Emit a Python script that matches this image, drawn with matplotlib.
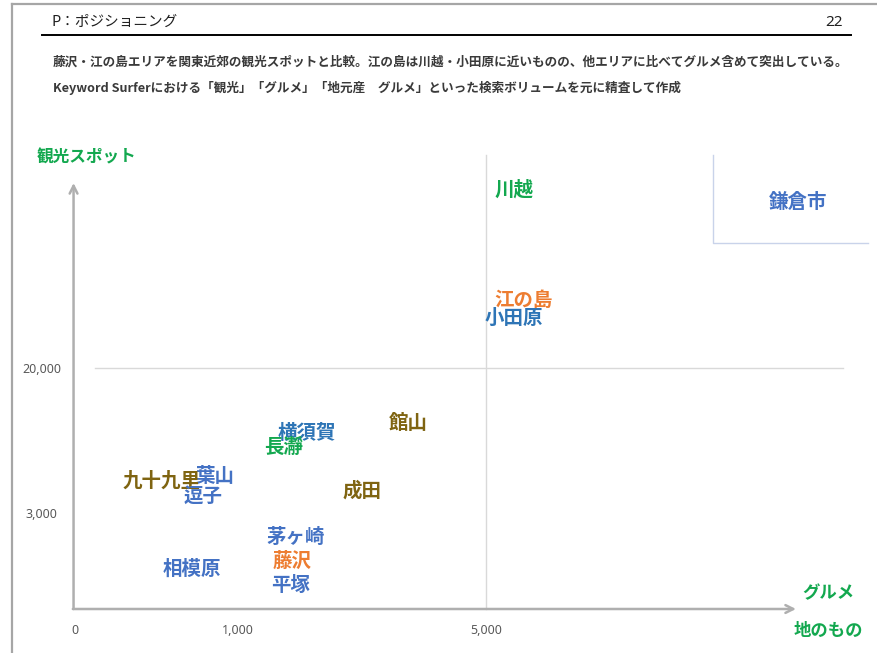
import matplotlib
matplotlib.use("Agg")
import matplotlib.pyplot as plt
from matplotlib.lines import Line2D
import numpy as np

plt.rcParams['font.family'] = ['Noto Sans CJK JP', 'DejaVu Sans']

# search volume: x = グルメ (local food), y = 観光スポット
names = ["川越", "鎌倉市", "江の島", "小田原", "館山", "横須賀", "長瀞",
         "葉山", "九十九里", "逗子", "成田", "茅ヶ崎", "藤沢", "平塚", "相模原"]
gourmet = [5450, 10030, 5600, 5450, 3740, 2110, 1730,
           860, 530, 785, 3000, 1935, 1870, 1855, 720]
sightseeing = [40900, 39350, 27860, 25860, 13430, 12380, 10740,
               7220, 6750, 4990, 5580, 2250, 1500, 750, 1250]
colors = ["#13A84F", "#4472C4", "#ED7D31", "#2E75B6", "#7F6411", "#2E75B6", "#13A84F",
          "#4472C4", "#7F6411", "#4472C4", "#7F6411", "#4472C4", "#ED7D31", "#4472C4", "#4472C4"]

x_ticks = [0, 1000, 5000]
x_ticklabels = ["0", "1,000", "5,000"]
y_ticks = [3000, 20000]
y_ticklabels = ["3,000", "20,000"]

header = "P：ポジショニング"
page_no = "22"
note1 = "藤沢・江の島エリアを関東近郊の観光スポットと比較。江の島は川越・小田原に近いものの、他エリアに比べてグルメ含めて突出している。"
note2 = "Keyword Surferにおける「観光」「グルメ」「地元産　グルメ」といった検索ボリュームを元に精査して作成"

# piecewise-linear axis scales (break points of the positioning map)
XD = [0, 1000, 5000, 20000]
XP = [0, 163, 411, 1341]
YD = [0, 3000, 20000, 60000]
YP = [0, 96, 241, 582]

W, H = 878, 653


def fx(x):
    return x / W


def fy(y):
    return 1 - y / H


fig = plt.figure(figsize=(W / 100, H / 100), dpi=100)
fig.patch.set_facecolor("white")

# page frame
fig.add_artist(Line2D([fx(12), 1], [fy(4), fy(4)], color="#A6A6A6", lw=1.6))
fig.add_artist(Line2D([fx(12), fx(12)], [fy(4), 0], color="#A6A6A6", lw=1.6))
fig.add_artist(Line2D([fx(42), fx(851)], [fy(35), fy(35)], color="black", lw=1.4))

fig.text(fx(52), fy(22), header, fontsize=10.5, color="#202020", va="center", ha="left")
fig.text(fx(843), fy(22), page_no, fontsize=11, color="#202020", va="center", ha="right",
         family="Noto Sans")
fig.text(fx(53), fy(62), note1, fontsize=9.1, weight="bold", color="#3A3A3A", va="center")
fig.text(fx(53), fy(88), note2, fontsize=9.1, weight="bold", color="#3A3A3A", va="center")

ax = fig.add_axes([fx(75), fy(609), (796 - 75) / W, (609 - 183) / H])
ax.set_xscale("function", functions=(lambda v: np.interp(v, XD, XP),
                                      lambda v: np.interp(v, XP, XD)))
ax.set_yscale("function", functions=(lambda v: np.interp(v, YD, YP),
                                      lambda v: np.interp(v, YP, YD)))
ax.set_xlim(0, 10000)
ax.set_ylim(0, 41690)
ax.patch.set_alpha(0)
for s in ax.spines.values():
    s.set_visible(False)

ax.set_xticks(x_ticks)
ax.set_xticklabels(x_ticklabels, family="Noto Sans", fontsize=9, color="#595959")
ax.set_yticks(y_ticks)
ax.set_yticklabels(y_ticklabels, family="Noto Sans", fontsize=9, color="#595959")
ax.tick_params(axis="x", length=0, pad=11)
ax.tick_params(axis="y", length=0, pad=24)
for t in ax.get_yticklabels():
    t.set_horizontalalignment("center")
ax.minorticks_off()

# quadrant divider lines
ax.plot([0.028, 1.065], [20000, 20000], transform=ax.get_yaxis_transform(),
        color="#D9D9D9", lw=1, clip_on=False)
ax.plot([5000, 5000], [0, 1.066], transform=ax.get_xaxis_transform(),
        color="#D9D9D9", lw=1, clip_on=False)

# off-scale box for 鎌倉市
ax.plot([0.885, 0.885, 1.10], [1.066, 0.859, 0.859], transform=ax.transAxes,
        color="#C9D3EA", lw=1, clip_on=False)

# arrows for the two axes
arrow = dict(arrowstyle="->", color="#AFAFAF", lw=1.8, mutation_scale=14, shrinkA=0, shrinkB=0)
ax.annotate("", xy=(-0.002, 1.0), xytext=(-0.002, 0), xycoords="axes fraction", arrowprops=arrow)
ax.annotate("", xy=(1.0, 0), xytext=(-0.003, 0), xycoords="axes fraction", arrowprops=arrow)

fig.text(fx(87), fy(157), "観光スポット", fontsize=12, weight="bold", color="#13A84F",
         ha="center", va="center")
fig.text(fx(828), fy(593), "グルメ", fontsize=12.5, weight="bold", color="#13A84F",
         ha="center", va="center")
fig.text(fx(828), fy(631), "地のもの", fontsize=12.5, weight="bold", color="#13A84F",
         ha="center", va="center")

for name, x, y, c in zip(names, gourmet, sightseeing, colors):
    ax.text(x, y, name, fontsize=14, weight="bold", color=c, ha="center", va="center")

fig.savefig("out.png", dpi=100, facecolor="white")
